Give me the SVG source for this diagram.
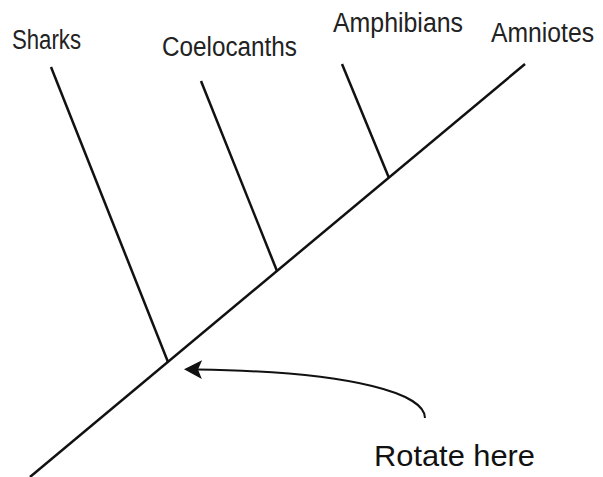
<svg xmlns="http://www.w3.org/2000/svg" width="603" height="477" viewBox="0 0 603 477">
<style>
.ln{stroke:#111;stroke-width:2.5;fill:none;stroke-linecap:butt}
.lbl{font-family:"Liberation Sans",Arial,sans-serif;font-size:27px;fill:#222}
.note{font-family:"Liberation Sans",Arial,sans-serif;font-size:29px;fill:#111}
</style>
<defs>
<marker id="ah" viewBox="0 0 18 20" refX="5" refY="10" markerWidth="18" markerHeight="20" markerUnits="userSpaceOnUse" orient="auto">
<path d="M18,10 L0,0.5 L4,10 L0,19.5 Z" fill="#111"/>
</marker>
</defs>
<rect width="603" height="477" fill="#fff"/>
<g id="connectors">
<line class="ln" x1="525" y1="64" x2="30" y2="477"/>
<line class="ln" x1="51" y1="67" x2="168" y2="362"/>
<line class="ln" x1="201" y1="81" x2="277" y2="271"/>
<line class="ln" x1="342" y1="64" x2="389" y2="178"/>
<path class="ln" style="stroke-width:2" d="M425,418 C425,395 360,372 197,369.5" marker-end="url(#ah)"/>
</g>
<g id="sharks"><text class="lbl" x="12" y="49" textLength="69" lengthAdjust="spacingAndGlyphs">Sharks</text></g>
<g id="coelocanths"><text class="lbl" x="162" y="56" textLength="135" lengthAdjust="spacingAndGlyphs">Coelocanths</text></g>
<g id="amphibians"><text class="lbl" x="333" y="32" textLength="130" lengthAdjust="spacingAndGlyphs">Amphibians</text></g>
<g id="amniotes"><text class="lbl" x="491" y="42" textLength="103" lengthAdjust="spacingAndGlyphs">Amniotes</text></g>
<g id="rotate"><text class="note" x="374" y="466" textLength="161" lengthAdjust="spacingAndGlyphs">Rotate here</text></g>
</svg>
